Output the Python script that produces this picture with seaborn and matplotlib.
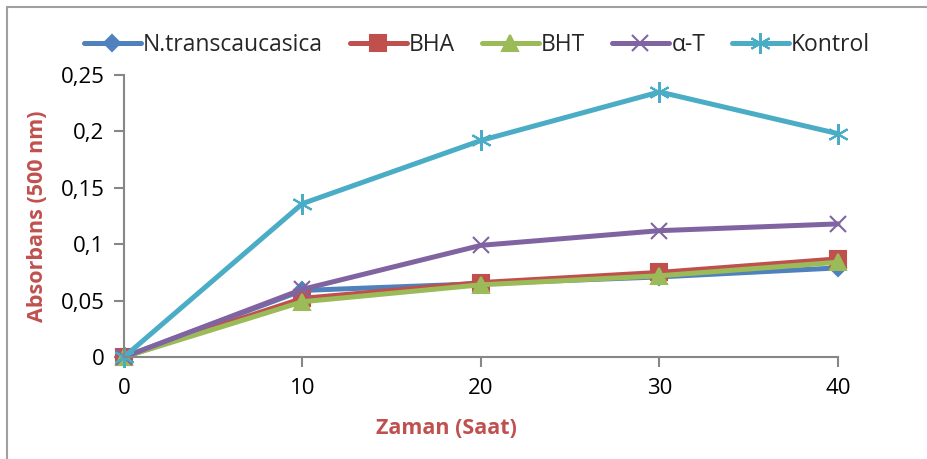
import matplotlib
matplotlib.use("Agg")
import matplotlib.pyplot as plt
import seaborn as sns
import pandas as pd
from matplotlib.lines import Line2D

time_h = [0, 10, 20, 30, 40]
n_trans = [0.0, 0.059, 0.065, 0.071, 0.079]
bha = [0.0, 0.052, 0.066, 0.075, 0.087]
bht = [0.0, 0.049, 0.064, 0.072, 0.084]
alpha_t = [0.0, 0.060, 0.099, 0.112, 0.118]
kontrol = [0.0, 0.136, 0.192, 0.235, 0.198]

series_names = ["N.transcaucasica", "BHA", "BHT", "α-T", "Kontrol"]
series_values = [n_trans, bha, bht, alpha_t, kontrol]
y_ticks = [0, 0.05, 0.1, 0.15, 0.2, 0.25]
y_tick_labels = ["0", "0,05", "0,1", "0,15", "0,2", "0,25"]
x_ticks = [0, 10, 20, 30, 40]

colors = ["#4F81BD", "#C0504D", "#9BBB59", "#8064A2", "#4BACC6"]
markers = ["D", "s", "^", "x", (6, 2, 0)]
msizes = [8, 11, 11, 12, 15]

sns.set_theme(style="white")
plt.rcParams["font.family"] = ["Open Sans", "DejaVu Sans"]

rows = []
for name, vals in zip(series_names, series_values):
    for t, v in zip(time_h, vals):
        rows.append({"Zaman": t, "Absorbans": v, "Seri": name})
df = pd.DataFrame(rows)

fig = plt.figure(figsize=(9.28, 4.59), dpi=100)
ax = fig.add_axes([124 / 928, 1 - 357 / 459, (838 - 124) / 928, (357 - 75) / 459])

sns.lineplot(data=df, x="Zaman", y="Absorbans", hue="Seri", hue_order=series_names,
             palette=colors, linewidth=3.6, ax=ax, legend=False)
for line, m, ms, c in zip(ax.get_lines(), markers, msizes, colors):
    line.set_marker(m)
    line.set_markersize(ms)
    line.set_markerfacecolor(c)
    line.set_markeredgecolor(c)
    line.set_markeredgewidth(1.5)
    line.set_clip_on(False)
    line.set_solid_capstyle("round")

ax.set_xlim(0, 40)
ax.set_ylim(0, 0.25)
ax.set_yticks(y_ticks)
ax.set_yticklabels(y_tick_labels)
ax.set_xticks(x_ticks)
ax.set_xticklabels([str(x) for x in x_ticks])
for s in ["top", "right"]:
    ax.spines[s].set_visible(False)
for s in ["left", "bottom"]:
    ax.spines[s].set_color("#878787")
    ax.spines[s].set_linewidth(1.5)
ax.tick_params(axis="both", which="major", direction="out", length=7, width=1.5,
               color="#878787", labelsize=16, labelcolor="black")
ax.tick_params(axis="y", pad=7)
ax.tick_params(axis="x", pad=8)
ax.tick_params(left=True, bottom=True)

lab_color = "#C0504D"
ax.set_xlabel("Zaman (Saat)", fontsize=15.5, fontweight="bold", color=lab_color, labelpad=14)
ax.xaxis.label.set_position(((446 - 124) / (838 - 124), 0))
ax.set_ylabel("Absorbans (500 nm)", fontsize=15.5, fontweight="bold", color=lab_color, labelpad=9)

handles = [Line2D([0], [0], color=c, lw=3.6, marker=m, markersize=ms,
                  markerfacecolor=c, markeredgecolor=c, markeredgewidth=1.5)
           for c, m, ms in zip(colors, markers, msizes)]
fig.legend(handles, series_names, loc="center", bbox_to_anchor=(477 / 928, 1 - 45 / 459),
           ncol=5, frameon=False, fontsize=16.5, handlelength=2.5, handletextpad=0.1,
           columnspacing=1.15, borderaxespad=0)

# figure border (left and top)
fig.add_artist(Line2D([7 / 928, 7 / 928], [0, 1 - 7 / 459], color="#A0A0A0", lw=1.5,
                      transform=fig.transFigure))
fig.add_artist(Line2D([7 / 928, 1], [1 - 7 / 459, 1 - 7 / 459], color="#A0A0A0", lw=1.5,
                      transform=fig.transFigure))

fig.savefig("out.png", dpi=100)
